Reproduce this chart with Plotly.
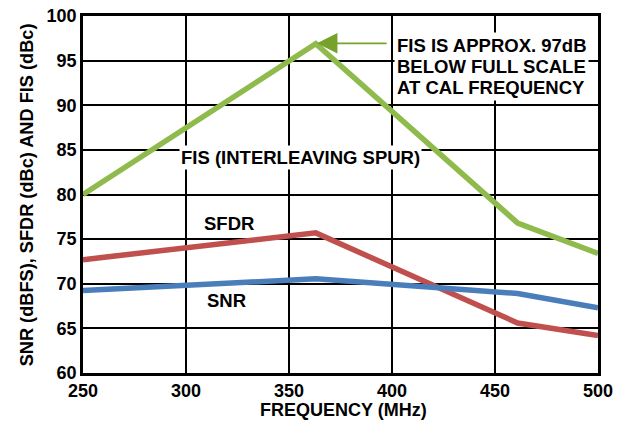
import plotly.graph_objects as go

freq = [250, 363, 461, 500]
fis = [80.0, 96.9, 76.8, 73.4]
sfdr = [72.7, 75.7, 65.6, 64.2]
snr = [69.25, 70.55, 68.9, 67.3]

x_ticks = [250, 300, 350, 400, 450, 500]
y_ticks = [60, 65, 70, 75, 80, 85, 90, 95, 100]

note_lines = ["FIS IS APPROX. 97dB", "BELOW FULL SCALE", "AT CAL FREQUENCY"]

FONT = "Liberation Sans, Arial, sans-serif"
GREEN = "#8fbb4c"
RED = "#c0504d"
BLUE = "#4a7ebb"

fig = go.Figure()
fig.add_trace(go.Scatter(x=freq, y=fis, mode="lines", line=dict(color=GREEN, width=5.5), name="FIS"))
fig.add_trace(go.Scatter(x=freq, y=sfdr, mode="lines", line=dict(color=RED, width=5.5), name="SFDR"))
fig.add_trace(go.Scatter(x=freq, y=snr, mode="lines", line=dict(color=BLUE, width=5.5), name="SNR"))

lbl_font = dict(family=FONT, size=18.5, color="black", weight="bold")

fig.add_annotation(x=355.4, y=84.16, text="FIS (INTERLEAVING SPUR)", showarrow=False,
                   font=lbl_font, bgcolor="white", xanchor="center", yanchor="middle")
fig.add_annotation(x=320.9, y=76.76, text="SFDR", showarrow=False, font=lbl_font,
                   xanchor="center", yanchor="middle")
fig.add_annotation(x=319.7, y=68.1, text="SNR", showarrow=False, font=lbl_font,
                   xanchor="center", yanchor="middle")
for i, (line_txt, yv) in enumerate(zip(note_lines, [96.72, 94.36, 92.0])):
    fig.add_annotation(x=401.0, y=yv, xanchor="left", yanchor="middle", align="left",
                       text=line_txt, showarrow=False, font=lbl_font, bgcolor="white",
                       borderpad=2)
fig.add_annotation(x=363.6, y=96.94, ax=398.1, ay=96.94, axref="x", ayref="y",
                   xref="x", yref="y", text="", showarrow=True, arrowhead=2,
                   arrowsize=2.4, arrowwidth=1.7, arrowcolor="#76a12a", standoff=0)

# axis titles
fig.add_annotation(xref="paper", yref="paper", x=-0.109, y=0.5, textangle=-90,
                   text="SNR (dBFS), SFDR (dBc) AND FIS (dBc)", showarrow=False,
                   font=dict(family=FONT, size=18.2, color="black", weight="bold"),
                   xanchor="center", yanchor="middle")
fig.add_annotation(xref="paper", yref="paper", x=0.505, y=-0.104,
                   text="FREQUENCY (MHz)", showarrow=False,
                   font=dict(family=FONT, size=18, color="black", weight="bold"),
                   xanchor="center", yanchor="middle")

fig.update_layout(
    width=626, height=421,
    margin=dict(l=83, r=28, t=16, b=48, autoexpand=False),
    paper_bgcolor="white", plot_bgcolor="white",
    showlegend=False,
    font=dict(family=FONT, color="black"),
)
fig.update_xaxes(range=[250, 500], tickvals=x_ticks, ticktext=[str(v) for v in x_ticks],
                 showgrid=True, gridcolor="black", gridwidth=2, automargin=False,
                 showline=True, linecolor="black", linewidth=2.5, mirror=True,
                 zeroline=False, ticks="", ticklen=0,
                 tickfont=dict(family=FONT, size=18, color="black", weight="bold"))
fig.update_yaxes(range=[60, 100], tickvals=y_ticks, ticktext=[str(v) for v in y_ticks],
                 showgrid=True, gridcolor="black", gridwidth=2, automargin=False,
                 showline=True, linecolor="black", linewidth=2.5, mirror=True,
                 zeroline=False, ticks="", ticklen=0,
                 tickfont=dict(family=FONT, size=18, color="black", weight="bold"))

fig.write_html("out.html", config={"displayModeBar": False},
               post_script="document.body.style.margin='0';document.body.style.padding='0';")
